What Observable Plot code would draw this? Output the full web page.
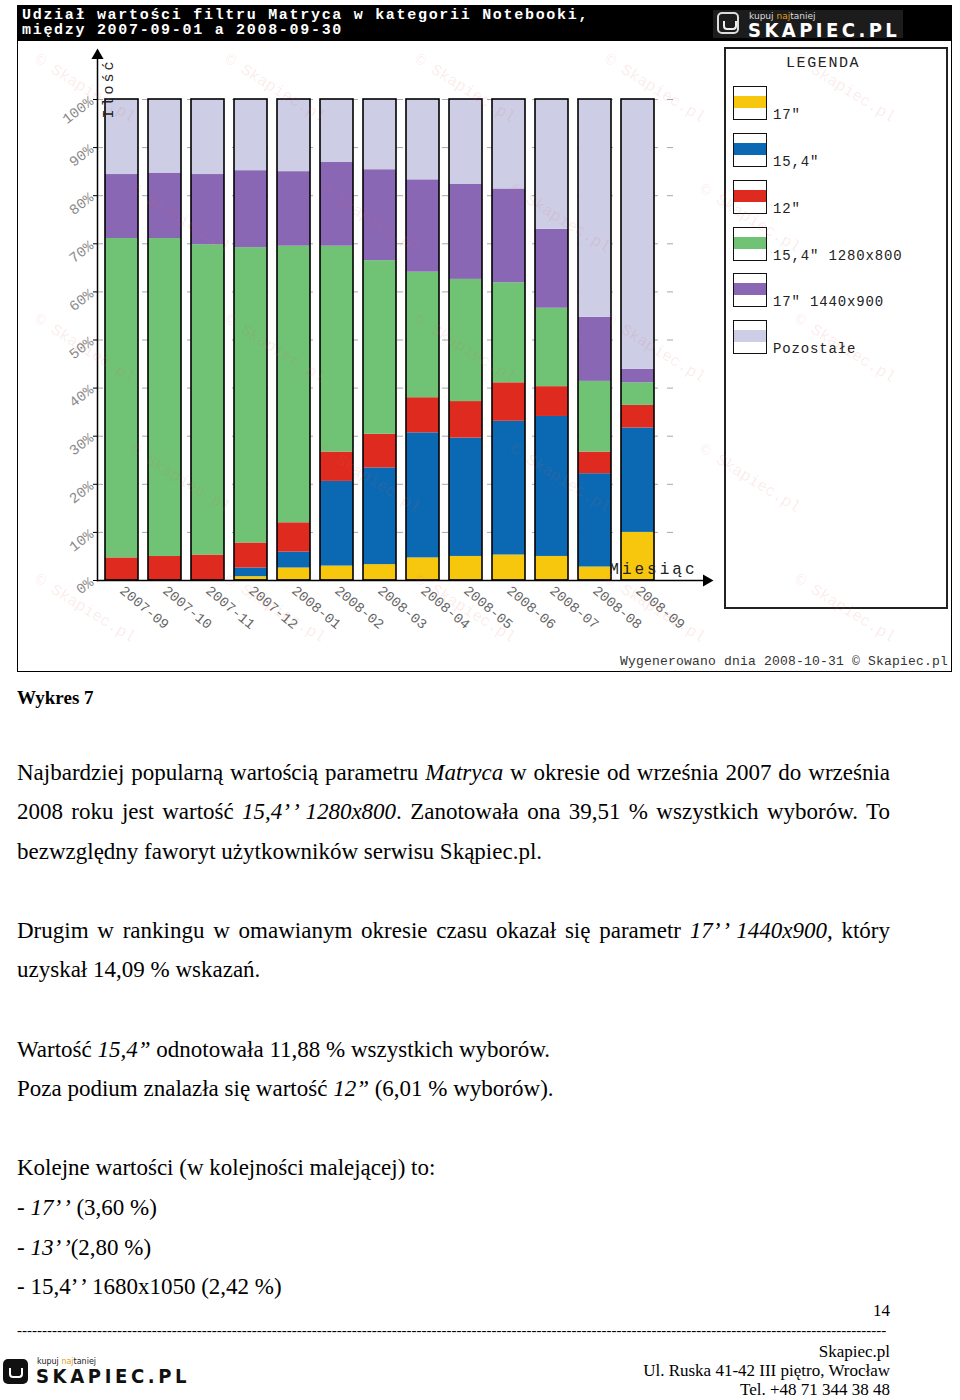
<!DOCTYPE html>
<html><head><meta charset="utf-8">
<script src="https://cdn.jsdelivr.net/npm/d3@7"></script>
<script src="https://cdn.jsdelivr.net/npm/@observablehq/plot@0.6"></script>
<style>
body{margin:0;background:#fff;}
#page{position:relative;width:960px;height:1400px;overflow:hidden;font-family:"Liberation Serif","Times New Roman",serif;color:#000;}
#frame{position:absolute;left:17px;top:5px;width:935px;height:667px;background:#fff;}
#border{position:absolute;left:0;top:0;width:935px;height:667px;border:1px solid #000;box-sizing:border-box;pointer-events:none;z-index:10;}
#titlebar{position:absolute;left:0;top:0;width:935px;height:36px;background:#000;}
.ttl{position:absolute;left:5px;color:#fff;font:bold 15px "Liberation Mono",monospace;letter-spacing:1.7px;white-space:nowrap;line-height:15px;}
#logo{position:absolute;left:696px;top:5px;width:190px;height:28px;background:#1c1c1c;}
#logo .ic{position:absolute;left:4px;top:2px;width:22px;height:22px;border:2px solid #ddd;border-radius:5px;box-sizing:border-box;}
#logo .ic:after{content:"";position:absolute;left:4px;top:7px;width:10px;height:7px;border:2px solid #eee;border-top:none;border-radius:0 0 4px 4px;}
#logo .k{position:absolute;left:36px;top:1px;font:9px "DejaVu Sans",sans-serif;color:#ddd;}
#logo .k b{color:#e0a020;font-weight:normal;}
#logo .s{position:absolute;left:35px;top:9px;font:600 19px "DejaVu Sans",sans-serif;color:#fff;letter-spacing:3.6px;transform:scaleX(0.95);transform-origin:left;}
#chart{position:absolute;left:0;top:36px;}
#legend{position:absolute;left:707px;top:42px;width:224px;height:562px;border:2px solid #222;box-sizing:border-box;background:#fff;}
#legend .h{position:absolute;left:60px;top:6px;font:15px "Liberation Mono",monospace;letter-spacing:1.6px;color:#222;white-space:nowrap;}
.sw{position:absolute;left:7px;width:34px;height:34px;border:1.5px solid #111;box-sizing:border-box;background:#fff;}
.sw i{position:absolute;left:0;right:0;top:9px;height:12px;}
.lb{position:absolute;left:47px;font:14px "Liberation Mono",monospace;letter-spacing:0.85px;line-height:16px;color:#222;white-space:nowrap;}
#gen{position:absolute;right:4px;top:649px;font:13px "Liberation Mono",monospace;color:#333;letter-spacing:0.2px;white-space:nowrap;}
#wms{position:absolute;left:0;top:0;width:935px;height:667px;overflow:hidden;pointer-events:none;z-index:5;}
.wm{position:absolute;font:16px "Liberation Mono",monospace;color:rgba(225,100,100,0.13);transform:rotate(32deg);white-space:nowrap;}
.ln{position:absolute;left:17px;width:873px;font-size:23px;line-height:28px;white-space:nowrap;}
.j{text-align:justify;text-align-last:justify;white-space:normal;}
.ft{position:absolute;right:70px;font-size:17px;line-height:19px;white-space:nowrap;text-align:right;}
#dash{position:absolute;left:17px;top:1322px;width:873px;white-space:nowrap;font-size:15px;line-height:16px;text-align:justify;text-align-last:justify;}
#flogo{position:absolute;left:3px;top:1357px;width:190px;height:30px;}
#flogo .ic{position:absolute;left:0;top:2px;width:25px;height:25px;background:#111;border-radius:5px;}
#flogo .ic:after{content:"";position:absolute;left:6px;top:9px;width:10px;height:8px;border:2px solid #fff;border-top:none;border-radius:0 0 4px 4px;}
#flogo .k{position:absolute;left:34px;top:0px;font:8px "DejaVu Sans",sans-serif;color:#222;}
#flogo .k b{color:#e0a020;font-weight:normal;}
#flogo .s{position:absolute;left:33px;top:8px;font:600 19px "DejaVu Sans",sans-serif;color:#111;letter-spacing:3.8px;transform:scaleX(0.95);transform-origin:left;}
</style>
</head><body>
<div id="page">
  <div id="frame">
    <div id="titlebar">
      <div class="ttl" style="top:3px">Udział wartości filtru Matryca w kategorii Notebooki,</div>
      <div class="ttl" style="top:18px">między 2007-09-01 a 2008-09-30</div>
      <div id="logo"><div class="ic"></div><div class="k">kupuj <b>naj</b>taniej</div><div class="s">SKAPIEC.PL</div></div>
    </div>
    <div id="chart"></div>
    <div id="legend"><div class="h">LEGENDA</div></div>
    <div id="gen">Wygenerowano dnia 2008-10-31 © Skapiec.pl</div>
    <div id="wms"></div>
    <div id="border"></div>
  </div>

  <div class="ln" style="top:686px;font-size:19px;font-weight:bold;line-height:24px">Wykres 7</div>

  <div class="ln j" style="top:759px">Najbardziej popularną wartością parametru <i>Matryca</i> w okresie od września 2007 do września</div>
  <div class="ln j" style="top:798px">2008 roku jest wartość <i>15,4’&#8202;’ 1280x800</i>. Zanotowała ona 39,51 % wszystkich wyborów. To</div>
  <div class="ln" style="top:838px">bezwzględny faworyt użytkowników serwisu Skąpiec.pl.</div>

  <div class="ln j" style="top:917px">Drugim w rankingu w omawianym okresie czasu okazał się parametr <i>17’&#8202;’ 1440x900</i>, który</div>
  <div class="ln" style="top:956px">uzyskał 14,09 % wskazań.</div>

  <div class="ln" style="top:1036px">Wartość <i>15,4”</i> odnotowała 11,88 % wszystkich wyborów.</div>
  <div class="ln" style="top:1075px">Poza podium znalazła się wartość <i>12”</i> (6,01 % wyborów).</div>

  <div class="ln" style="top:1154px">Kolejne wartości (w kolejności malejącej) to:</div>
  <div class="ln" style="top:1194px">- <i>17’&#8202;’</i> (3,60 %)</div>
  <div class="ln" style="top:1234px">- <i>13’&#8202;’</i>(2,80 %)</div>
  <div class="ln" style="top:1273px">- 15,4’&#8202;’ 1680x1050 (2,42 %)</div>

  <div class="ft" style="top:1301px;font-size:17px">14</div>
  <div id="dash"></div>

  <div id="flogo"><div class="ic"></div><div class="k">kupuj <b>naj</b>taniej</div><div class="s">SKAPIEC.PL</div></div>
  <div class="ft" style="top:1342px">Skapiec.pl</div>
  <div class="ft" style="top:1361px">Ul. Ruska 41-42 III piętro, Wrocław</div>
  <div class="ft" style="top:1380px">Tel. +48 71 344 38 48</div>
</div>

<script>
// ---- data (percent of selections per month) ----
const months = ["2007-09","2007-10","2007-11","2007-12","2008-01","2008-02","2008-03","2008-04","2008-05","2008-06","2008-07","2008-08","2008-09"];
const seriesNames = ["17\"", "15,4\"", "12\"", "15,4\" 1280x800", "17\" 1440x900", "Pozostałe"];
const seriesColors = ["#f7c70e", "#0a69b2", "#df2b1f", "#70c275", "#8a67b5", "#cdcde6"];
const v17      = [0, 0, 0, 0.8, 2.6, 3.0, 3.3, 4.7, 5.0, 5.3, 5.0, 2.8, 10.0];
const v154     = [0, 0, 0, 1.8, 3.3, 17.6, 20.1, 26.0, 24.6, 27.8, 29.1, 19.4, 21.7];
const v12      = [4.7, 5.0, 5.3, 5.2, 6.1, 6.1, 7.0, 7.3, 7.6, 8.0, 6.2, 4.5, 4.7];
const v1280    = [66.4, 66.1, 64.5, 61.4, 57.5, 42.8, 36.1, 26.1, 25.4, 20.8, 16.3, 14.7, 4.7];
const v1440    = [13.3, 13.6, 14.6, 16.0, 15.5, 17.4, 18.9, 19.2, 19.8, 19.5, 16.4, 13.3, 2.8];
const vRest    = [15.6, 15.3, 15.6, 14.8, 15.0, 13.1, 14.6, 16.7, 17.6, 18.6, 27.0, 45.3, 56.1];
const yTicks   = [0, 10, 20, 30, 40, 50, 60, 70, 80, 90, 100];

const cols = [v17, v154, v12, v1280, v1440, vRest];
const table = [];
months.forEach((m, i) => seriesNames.forEach((s, j) => table.push({month: m, series: s, value: cols[j][i]})));
const totals = months.map((m, i) => ({month: m, total: cols.reduce((a, c) => a + c[i], 0)}));

const chart = Plot.plot({
  width: 935, height: 631,
  marginLeft: 80, marginRight: 246, marginTop: 14, marginBottom: 92,
  style: {background: "transparent", fontFamily: "'Liberation Mono', monospace", fontSize: "13px", overflow: "visible"},
  x: {domain: months, range: [75.75, 648.25], padding: 0.237, label: null},
  y: {domain: [0, 100], range: [539, 58], label: null},
  color: {domain: seriesNames, range: seriesColors},
  marks: [
    Plot.ruleY(yTicks.slice(1), {stroke: "#a8a8a8", strokeDasharray: "6,9", strokeWidth: 1, insetRight: 25}),
    Plot.barY(table, {x: "month", y: "value", fill: "series", order: seriesNames}),
    Plot.barY(totals, {x: "month", y: "total", fill: "none", stroke: "#000", strokeWidth: 1.6}),
    Plot.axisY({ticks: yTicks, tickFormat: d => d + "%", tickRotate: -38, tickSize: 4, tickPadding: 2, fill: "#8a8a8a", fontSize: 14.5, label: null}),
    Plot.axisX({tickRotate: 40, tickSize: 0, tickPadding: 8, fill: "#666", fontSize: 14, label: null}),
    Plot.frame({anchor: "left", stroke: "#000", strokeWidth: 1.5}),
    Plot.frame({anchor: "bottom", stroke: "#000", strokeWidth: 1.5}),
    Plot.dot([0], {frameAnchor: "top-left", symbol: "triangle", r: 4.5, fill: "#000", stroke: "none"}),
    Plot.dot([0], {frameAnchor: "bottom-right", symbol: "triangle", r: 4.5, fill: "#000", stroke: "none", rotate: 90}),
    Plot.text(["Ilość"], {frameAnchor: "top-left", rotate: -90, dx: 5, dy: 33, textAnchor: "middle", fontSize: 15, fill: "#222", fontFamily: "'Liberation Mono', monospace"}),
    Plot.text(["Miesiąc"], {frameAnchor: "bottom-right", textAnchor: "end", dx: -9, dy: -7, fontSize: 16, fill: "#222", fontFamily: "'Liberation Mono', monospace"})
  ]
});
chart.querySelectorAll("text").forEach(t => {
  if (t.textContent === "Ilość" || t.textContent === "Miesiąc") t.style.letterSpacing = "3px";
});
document.getElementById("chart").appendChild(chart);

// legend (HTML)
const legend = document.getElementById("legend");
const legendTops = [37, 84, 131, 178, 224, 271];
seriesNames.forEach((s, j) => {
  const sw = document.createElement("div");
  sw.className = "sw"; sw.style.top = legendTops[j] + "px";
  const band = document.createElement("i"); band.style.background = seriesColors[j];
  sw.appendChild(band); legend.appendChild(sw);
  const lb = document.createElement("div");
  lb.className = "lb"; lb.style.top = (legendTops[j] + 21) + "px"; lb.textContent = s;
  legend.appendChild(lb);
});

// watermark texture (kept fully inside the chart frame)
const wms = document.getElementById("wms");
for (let r = 0; r < 5; r++) for (let c = 0; c < 5; c++) {
  const left = 10 + c * 190 + (r % 2) * 95;
  const top = 75 + r * 130;
  if (left > 815 || top > 612) continue;
  const d = document.createElement("div");
  d.className = "wm";
  d.textContent = "© Skapiec.pl";
  d.style.left = left + "px";
  d.style.top = top + "px";
  wms.appendChild(d);
}
// dashed separator: as many hyphens as fit the text width
const dash = document.getElementById("dash");
let n = 150;
dash.textContent = "-".repeat(n);
while (dash.scrollWidth <= 873 && n < 400) { n++; dash.textContent = "-".repeat(n); }
dash.textContent = "-".repeat(n - 1);
</script>
</body></html>
